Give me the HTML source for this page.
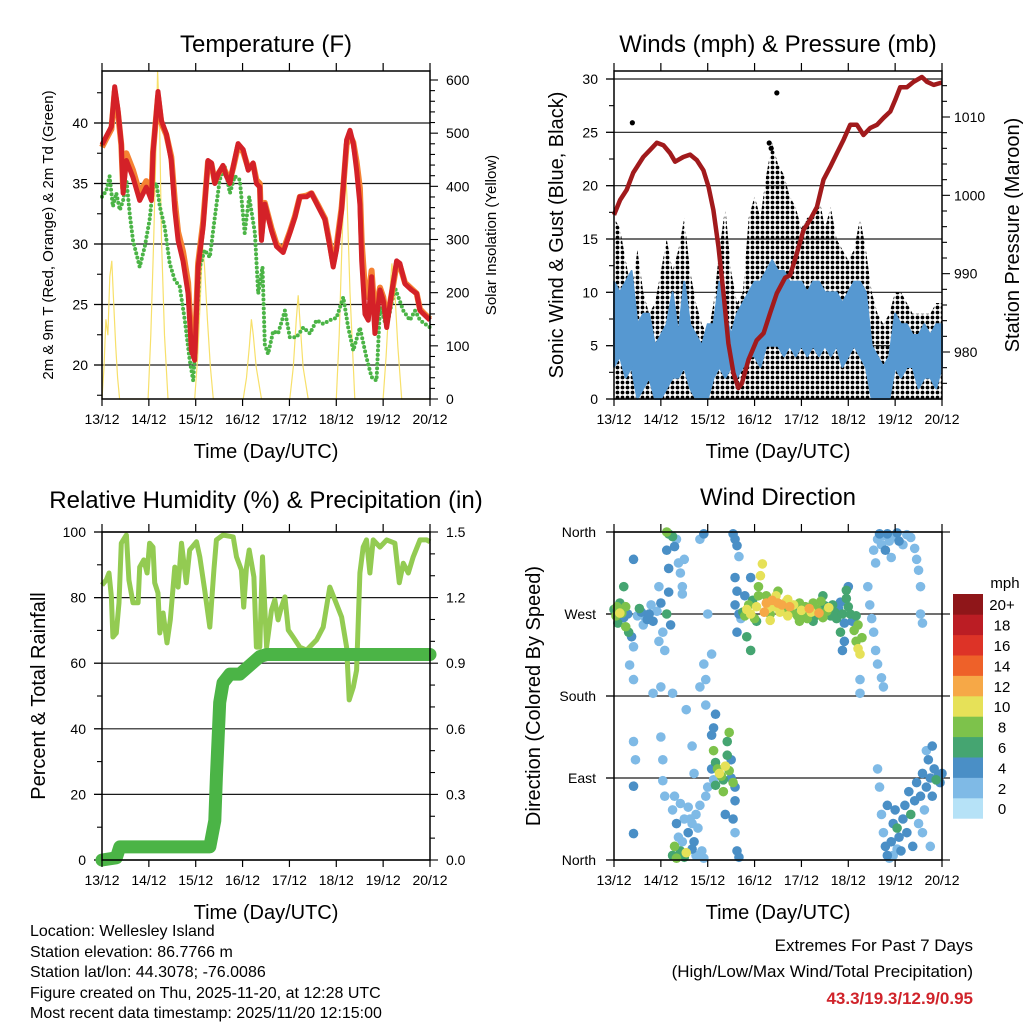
<!DOCTYPE html>
<html><head><meta charset="utf-8"><title>Weather station charts</title>
<style>
html,body{margin:0;padding:0;background:#fff;}
svg{display:block;font-family:"Liberation Sans",Arial,sans-serif;}
</style></head>
<body>
<svg id="chart" width="1024" height="1024" viewBox="0 0 1024 1024" xmlns="http://www.w3.org/2000/svg">
<defs>
<pattern id="dots" width="5" height="5" patternUnits="userSpaceOnUse"><circle cx="2.5" cy="2.5" r="1.9" fill="#000"/></pattern>
</defs>
<rect width="1024" height="1024" fill="#fff"/>
</svg>
<script>
// ---------- DATA ----------
const dayLabels = ["13/12","14/12","15/12","16/12","17/12","18/12","19/12","20/12"];
// Temperature (F) panel
const tempHours = [0,2.2,4.8,6.5,8.2,9.9,10.8,12.5,15.9,19.3,22.7,25.3,26.1,28.7,30.4,33,35.5,37.3,39,41.5,44.1,45.8,47.5,49.2,51.8,54.3,56.1,57.8,59.5,62,63.7,65.5,67.2,69.7,72.3,74.9,77.4,79.1,80.8,81.7,83.4,86.8,89.4,92.8,96.2,98.8,101.3,104.8,107.3,110.7,114.2,116.7,118.4,120.1,122.7,125.3,127,128.7,130.4,132.1,133,134.7,136.4,138.1,139.8,142.4,144.1,145.8,148.3,150.9,152.6,155.2,158.6,161.2,162.9,165.4,168];
const temp2m = [38.2,38.9,39.7,43.0,41.1,38.3,34.2,36.9,35.5,33.6,34.7,33.6,37.5,42.6,40.2,39.1,36.9,32.8,30.3,28.6,25.9,21.2,20.4,28.1,31.4,36.9,36.7,35.0,35.8,36.5,35.6,35.0,36.4,38.3,37.8,36.1,36.7,35.0,34.7,30.3,33.3,31.1,29.8,29.3,30.9,32.2,33.9,33.9,34.2,33.1,32.0,29.8,28.1,29.5,32.8,38.6,39.4,38.3,36.1,33.3,28.6,24.2,23.7,27.3,22.6,26.2,25.3,23.1,25.9,28.6,28.4,26.7,26.2,25.9,24.5,24.1,23.7];
const temp9m = [38.0,38.7,39.5,42.6,40.8,38.2,34.6,37.5,36.1,34.2,35.2,34.0,37.6,42.2,40.0,39.0,37.2,33.6,31.0,29.4,26.8,22.0,21.0,28.4,31.8,36.8,36.6,35.1,35.8,36.4,35.8,35.3,36.3,38.1,37.6,36.3,36.6,35.3,35.0,30.8,33.4,31.3,30.0,29.5,31.0,32.3,33.9,34.0,34.2,33.2,32.1,30.0,28.4,29.8,33.0,38.2,39.0,38.4,36.8,34.6,30.2,26.2,25.6,27.8,24.0,26.4,25.6,23.6,25.8,28.3,28.2,26.8,26.3,25.9,24.6,24.2,23.8];
const dewHours = [0,2.2,3.9,5.6,7.3,9.1,10.8,12.5,14.2,15.9,19.3,21.9,24.4,26.1,27.9,29.6,32.1,34.7,37.3,39.8,42.4,44.9,46.7,48.4,50.1,52.6,55.2,57.8,60.3,62.9,65.5,68,70.6,73.1,75.4,78.3,80,82.2,83.4,85.1,87.7,90.2,93.7,96.2,99.6,103.1,106.5,109.9,113.3,116.7,120.1,123.6,126.1,128.7,132.1,135.5,138.1,140.6,142.4,145.8,150,154.3,157.7,160.3,162.9,168];
const dewPoint = [33.9,34.4,35.6,33.1,34.2,32.8,33.6,35.3,32.5,30.3,28.1,29.8,32.0,34.7,35.0,33.1,31.4,28.4,27.0,26.5,23.7,20.4,18.7,23.1,28.1,29.5,28.9,32.2,35.3,36.4,34.2,35.6,35.3,30.9,33.9,30.9,25.9,28.1,21.7,20.9,22.8,22.6,24.5,22.3,22.3,23.1,22.6,23.7,23.4,23.7,23.9,25.6,23.1,21.2,23.1,20.6,19.0,18.7,24.8,23.1,26.4,24.5,23.7,24.5,23.7,23.1];
const solarHours = [0,1,2,3,4,5,6,7,8,9, 23.6,25,26.5,27.5,28.5,29.5,30.5,32,33.8, 47.5,49,50.5,51.5,52.5,54,55.5,57, 72.3,74,75.5,76.5,77.5,79,81.7, 96.2,98,99.5,100.5,101.5,103,105.6, 120,121.5,123,124.5,125.5,127,129.5, 144,145.5,147,148.5,150,151.5,153.5, 168];
const solarVals  = [0,60,150,120,230,260,180,100,40,0, 0,120,300,450,620,520,300,120,0, 0,80,200,290,250,150,60,0, 0,40,100,150,120,60,0, 0,60,150,195,140,60,0, 0,120,300,440,380,200,0, 0,80,180,255,200,100,0, 0];
const tempTicks = [20,25,30,35,40];
const solarTicks = [0,100,200,300,400,500,600];
// Winds panel (3-hourly envelopes)
const windHours = [0,3,6,9,12,15,18,21,24,27,30,33,36,39,42,45,48,51,54,57,60,63,66,69,72,75,78,81,84,87,90,93,96,99,102,105,108,111,114,117,120,123,126,129,132,135,138,141,144,147,150,153,156,159,162,165,168];
const windLow  = [3,4,2,3,0,1,2,0,0,1,2,2,3,1,0,0,0,2,3,2,3,2,3,4,4,3,5,5,5,4,5,4,5,4,5,4,5,4,5,3,4,5,4,3,0,0,0,0,3,2,3,3,1,2,2,1,3];
const windHigh = [11,10,11,12,7,8,8,5,6,7,10,6,11,7,6,5,7,7,11,8,6,8,9,10,11,11,12,13,12,12,11,11,11,10,11,11,10,10,10,9,10,11,11,10,5,4,3,4,8,7,7,6,6,7,6,7,7];
const gustHigh = [17,16,13,10,14,10,8,9,12,15,12,14,17,12,9,7,6,9,14,18,12,9,10,17,19,17,21,24,22,21,19,18,16,17,17,19,16,18,15,14,13,14,17,14,10,8,7,8,10,10,9,8,8,8,8,9,9];
const gustOutHours = [9.4,83.4,79.5,80.5];
const gustOutVals  = [25.9,28.7,24.0,23.5];
const presHours = [0,3.1,6.5,9.9,15,18.5,21.9,25.3,28.7,31.3,35.5,39,42.4,45.8,48.4,50.9,53.5,56.1,58.6,61.2,63.7,65.5,68.9,73.1,76.6,80,83.4,87.7,90.2,93.7,97.1,100.5,103.9,107.3,110.7,114.2,117.6,121,124.4,127.8,131.2,134.7,138.1,141.5,144.1,146.6,150,153.5,157.7,160.3,163.7,168];
const pressure = [997.5,999.4,1000.7,1002.9,1004.9,1005.8,1006.7,1006.4,1005.4,1004.3,1004.9,1005.2,1004.5,1003.2,1001.1,998.1,993.4,987.5,981.1,977.3,975.4,976.0,979.0,981.5,982.4,985.0,987.5,989.5,989.8,992.6,995.6,996.9,998.5,1002.0,1003.6,1005.4,1007.1,1009.0,1009.0,1007.7,1008.6,1009.0,1009.9,1010.7,1012.2,1013.8,1013.8,1014.5,1015.1,1014.5,1014.1,1014.4];
const windTicks = [0,5,10,15,20,25,30];
const presTicks = [980,990,1000,1010];
// RH / precipitation panel
const rhHours = [0,2.2,3.6,4.8,5.6,7.3,8.7,9.9,12.5,13.8,15.9,18.5,19.3,21.4,23.1,24.4,26.1,27,28.7,29.6,31.3,33.3,35,37.3,39,40.7,43.2,44.9,48.4,50.1,52.6,55.2,57.3,58.6,62,67.2,68.9,71.4,72.6,74,75.4,77.8,79.1,80.8,82.2,84.3,86.8,88.5,90.2,91.9,93.7,95.4,97.9,101.3,104.8,109.9,113.3,116.7,119.3,122.7,125.3,126.6,128.7,130.4,132.1,133.8,135.5,137.2,138.9,142.4,145.8,150,152.3,154.3,156.9,159.4,162.9,166.3,168];
const rhVals = [83.8,85.4,87.5,80.2,68.0,69.2,78.4,96.6,99.1,85.4,78.4,78.4,89.3,91.5,87.5,96.6,95.4,84.5,81.4,69.2,75.3,66.2,73.2,89.3,83.2,96.6,84.5,94.5,97.0,92.4,82.3,71.0,88.4,97.6,99.1,98.5,92.4,88.4,77.1,89.3,94.5,86.3,64.9,64.9,92.4,64.9,76.2,79.3,73.2,77.1,80.2,70.1,68.0,64.9,64.0,67.1,71.0,83.2,79.3,74.1,64.9,48.8,52.7,57.9,87.5,95.4,97.6,87.5,97.6,95.4,97.6,96.6,84.5,90.5,87.5,92.4,97.6,97.6,97.0];
const precipHours = [0,7.3,9.1,55.2,57.8,58.6,60.3,62,65.5,70.6,75.7,80.8,84.3,168];
const precipVals  = [0,0.01,0.06,0.06,0.18,0.38,0.72,0.81,0.85,0.85,0.89,0.93,0.94,0.94];
const rhTicks = [0,20,40,60,80,100];
const precipTicks = ["0.0","0.3","0.6","0.9","1.2","1.5"];
// Wind direction scatter: hour, degrees, speed
const dirHours = [0,1.5,3,4,5,6,7,2,6,7.5,9,10,8,5,10,3,1, 12,14,16,18,20,15,22,13,19,17, 23,24,25,26,27,28,29,27,28,23,24, 28,30,32,31,33,34,35,36,35,27, 46,44,46,47,44,47,48,50, 10,20,30,37,10,24,25,26,10,10,11,25,40,41, 30,31,32,33,31,30,32,34,35,36,37,38,39,40,41,42,43,44,45,46,47,48,40,42,36,34,38, 50,51,52,51,52,53,54,55,56,57,58,59,60,61,62,50,51,52,58,59,56,60,62,61,62,63,64,57, 61,62,63,64,62,63,62,64,65,63, 66,67,68,69,70,71,72,73,74,74,75,76,77,78,79,80,81,82,83,84,85,86,87,88,89,90,91,92,93,94,95,96,97,98,99,100,101,102,103,104,105,106,107,108,109,110,111,112,113,114,115,116,117,118,119,120,121,122,123,124,125,126,127,125,124,120,118,117,116,119,68,70,67,70,78,80,84,73,89,95,102,107, 133,134,135,136,137,138,139,140,141,142,143,145,146,148,150,152,154,155,156,157,130,131,132,133,134,135,137,138,157,158, 135,136,137,138,139,140,141,142,143,144,145,146,147,148,149,150,151,152,153,154,155,156,157,158,159,160,161,162,163,164,165,166,167,168,160,163,158,162,145,140,143,126,126];
const dirDeg = [275,278,282,271,266,278,270,260,256,250,245,234,214,300,330,271,268, 268,272,266,270,262,258,273,276,280,264, 300,282,250,230,270,294,258,340,320,240,190, 358,355,352,344,326,315,300,330,292,360, 358,352,215,198,190,170,270,226, 198,183,183,165,130,135,110,70,81,29,110,87,125,95, 55,70,40,25,15,5,2,10,20,3,8,30,45,40,20,50,35,60,10,2,70,80,12,5,45,62,58, 137,145,160,120,107,100,95,92,88,103,115,98,90,85,80,100,88,82,130,140,75,110,65,45,30,10,3,50, 358,352,345,333,310,295,280,270,265,250, 272,268,275,280,270,285,265,278,290,300,312,325,272,282,276,270,285,278,290,282,272,280,276,283,268,278,272,280,275,268,282,274,270,278,265,276,272,282,268,275,271,284,266,279,273,277,268,280,272,265,276,283,270,260,296,278,270,262,252,240,232,226,244,258,268,300,240,230,250,287,245,230,290,310,290,263,295,262,286,262,262,290, 340,326,352,358,346,356,340,358,350,332,355,359,350,346,357,354,342,330,318,300,300,280,265,250,230,215,200,190,270,260, 100,80,50,30,15,5,2,20,40,55,35,25,10,45,60,30,75,50,15,65,85,40,70,95,55,80,110,90,70,100,88,92,85,95,120,125,30,15,12,60,5,198,183];
const dirSpeed = [7,9,6,8,5,8,4,7,8,7,4,3,3,6,4,10,8, 3,4,3,4,5,2,3,6,2,4, 3,4,2,2,6,5,4,5,4,2,2, 6,7,3,4,2,2,3,2,2,8, 4,2,2,2,2,2,2,3, 2,2,2,2,2,2,2,2,4,4,2,2,2,2, 2,2,4,2,8,7,8,6,2,7,10,4,2,2,4,2,2,2,2,2,2,2,4,2,2,2,2, 4,4,4,8,6,8,10,8,7,10,6,8,4,8,4,4,3,6,6,8,8,4,4,4,2,4,4,4, 4,4,4,2,4,4,4,4,2,4, 6,8,10,8,10,6,8,10,8,8,10,10,12,12,10,8,12,10,10,12,10,12,8,10,10,12,8,10,6,8,8,10,8,8,8,12,10,8,6,8,12,8,8,6,8,10,6,6,6,6,4,4,6,4,6,6,6,4,8,8,10,10,8,8,6,4,4,4,6,6,6,6,4,4,8,10,8,6,10,8,6,6, 2,2,2,4,2,2,4,4,2,2,2,4,4,2,2,2,2,2,2,2,2,2,2,2,2,2,2,2,2,2, 2,2,2,2,4,4,2,4,4,4,6,4,4,4,4,4,4,6,4,4,4,2,4,4,2,4,4,4,4,4,6,4,4,4,2,4,2,2,2,4,2,2,2];
const dirTickLabels = ["North","East","South","West","North"];
const cbarLabels = ["0","2","4","6","8","10","12","14","16","18","20+"];
const cbarColors = ["#b6e2f7","#7fbae6","#4a8fc6","#45a571","#7dc24b","#e6e158","#f6a847","#ee6129","#dd3327","#bb1d24","#8f1619"];

// ---------- HELPERS ----------
const NS = "http://www.w3.org/2000/svg";
const svg = document.getElementById("chart");
function mk(tag, attrs, parent) {
  const el = document.createElementNS(NS, tag);
  for (const k in attrs) el.setAttribute(k, attrs[k]);
  (parent || svg).appendChild(el);
  return el;
}
function txt(str, attrs, parent) {
  const el = mk("text", attrs, parent);
  el.textContent = str;
  return el;
}
function linScale(d0, d1, r0, r1) { return v => r0 + (v - d0) / (d1 - d0) * (r1 - r0); }

const L = {x0:102, x1:430}, R = {x0:614, x1:942};
const TOP = {y0:71, y1:399}, BOT = {y0:532, y1:860};
const xL = linScale(0, 168, L.x0, L.x1);
const xR = linScale(0, 168, R.x0, R.x1);

function drawXAxis(p, yr, name) {
  const g = mk("g", {});
  
  
  for (let d = 0; d < dayLabels.length; d++) {
    const x = p.x0 + d * (p.x1 - p.x0) / 7;
    const t1 = mk("line", {x1:x, x2:x, y1:yr.y1, y2:yr.y1 + 7, stroke:"#000", "stroke-width":1.2}, g);
    
    
    const t2 = mk("line", {x1:x, x2:x, y1:yr.y0 - 8, y2:yr.y0, stroke:"#000", "stroke-width":1.2}, g);
    
    
    const lb = txt(dayLabels[d], {x:x, y:yr.y1 + 25, "font-size":14, "text-anchor":"middle", fill:"#000"}, g);
    
    
  }
  const t = txt("Time (Day/UTC)", {x:(p.x0 + p.x1) / 2, y:yr.y1 + 59, "font-size":20, "text-anchor":"middle"}, g);
  
  
}
function drawBox(p, yr, name) {
  const r = mk("rect", {x:p.x0, y:yr.y0, width:p.x1 - p.x0, height:yr.y1 - yr.y0, fill:"none", stroke:"#000", "stroke-width":1.5});
  
  
}
function hGrid(y, xa, xb) {
  const l = mk("line", {x1:xa, x2:xb, y1:y, y2:y, stroke:"#1a1a1a", "stroke-width":1.2});
  
  
}
function yTick(x, y, len, labelStr, anchor, lx) {
  const l = mk("line", {x1:x, x2:x + len, y1:y, y2:y, stroke:"#000", "stroke-width":1.1});
  
  
  if (labelStr !== null) {
    const t = txt(labelStr, {x:lx, y:y + 5, "font-size":14, "text-anchor":anchor});
    
    
  }
}
function rotLabel(str, x, y, size, name) {
  const t = txt(str, {x:x, y:y, "font-size":size, "text-anchor":"middle", transform:"rotate(-90 " + x + " " + y + ")"});
  
  
}
function title(str, x, y, name) {
  const t = txt(str, {x:x, y:y, "font-size":24, "text-anchor":"middle"});
  
  
}
function polyPts(hs, vs, xf, yf) { return hs.map((h, i) => xf(h).toFixed(1) + "," + yf(vs[i]).toFixed(1)).join(" "); }

// ---------- PANEL 1: TEMPERATURE ----------
const yT = linScale(20, 40, 365, 123);
const yS = linScale(0, 600, 399, 80);
title("Temperature (F)", 266, 52, "temperature-title");
tempTicks.forEach(v => hGrid(yT(v), 94, L.x1));
tempTicks.forEach(v => yTick(L.x0 - 8, yT(v), 8, String(v), "end", 88));
[17.5,22.5,27.5,32.5,37.5,42.5].forEach(v => yTick(L.x0 - 5, yT(v), 5, null));
solarTicks.forEach(v => yTick(L.x1, yS(v), 8, String(v), "start", 446));
for (let v = 20; v <= 600; v += 20) if (v % 100) yTick(L.x1, yS(v), 5, null);
rotLabel("2m & 9m T (Red, Orange) & 2m Td (Green)", 53, 235, 15, "temperature-y-axis-title");
rotLabel("Solar Insolation (Yellow)", 496, 235, 15, "solar-y-axis-title");
const gT = mk("g", {});


const solarLine = mk("polyline", {points:polyPts(solarHours, solarVals, xL, v => Math.max(yS(v), 71)), fill:"none", stroke:"#f7e06a", "stroke-width":1.2}, gT);


const dewLine = mk("polyline", {points:polyPts(dewHours, dewPoint, xL, yT), fill:"none", stroke:"#4bb446", "stroke-width":4, "stroke-linecap":"round", "stroke-dasharray":"0 4.5"}, gT);


const t9Line = mk("polyline", {points:polyPts(tempHours, temp9m, xL, yT), fill:"none", stroke:"#f58233", "stroke-width":6, "stroke-linejoin":"round"}, gT);


const t2Line = mk("polyline", {points:polyPts(tempHours, temp2m, xL, yT), fill:"none", stroke:"#d42128", "stroke-width":5, "stroke-linejoin":"round"}, gT);


drawBox(L, TOP, "temperature");
drawXAxis(L, TOP, "temperature");

// ---------- PANEL 2: WINDS ----------
const yW = linScale(0, 30, 399, 79);
const yP = linScale(980, 1010, 352, 117);
title("Winds (mph) & Pressure (mb)", 778, 52, "winds-title");
windTicks.forEach(v => hGrid(yW(v), 606, R.x1));
windTicks.forEach(v => yTick(R.x0 - 8, yW(v), 8, String(v), "end", 598));
[2.5,7.5,12.5,17.5,22.5,27.5].forEach(v => yTick(R.x0 - 5, yW(v), 5, null));
presTicks.forEach(v => yTick(R.x1, yP(v), 8, String(v), "start", 954));
for (let v = 976; v <= 1014; v += 2) if (v % 10) yTick(R.x1, yP(v), 5, null);
rotLabel("Sonic Wind & Gust (Blue, Black)", 563, 235, 20, "wind-y-axis-title");
rotLabel("Station Pressure (Maroon)", 1019, 235, 20, "pressure-y-axis-title");
const gW = mk("g", {});


const gustPts = windHours.map((h, i) => xR(h).toFixed(1) + "," + yW(gustHigh[i]).toFixed(1)).join(" ") + " " + xR(168) + "," + yW(0) + " " + xR(0) + "," + yW(0);
const gustBand = mk("polygon", {points:gustPts, fill:"url(#dots)"}, gW);


gustOutHours.forEach((h, i) => {
  const c = mk("circle", {cx:xR(h), cy:yW(gustOutVals[i]), r:2.6, fill:"#000"}, gW);
  
  
});
const bandPts = windHours.map((h, i) => xR(h).toFixed(1) + "," + yW(windHigh[i]).toFixed(1)).concat(windHours.slice().reverse().map((h, j) => xR(h).toFixed(1) + "," + yW(windLow[windHours.length - 1 - j]).toFixed(1))).join(" ");
const windBand = mk("polygon", {points:bandPts, fill:"#5698d1", stroke:"#5698d1", "stroke-width":2, "stroke-linejoin":"round"}, gW);


const presLine = mk("polyline", {points:polyPts(presHours, pressure, xR, yP), fill:"none", stroke:"#a11a1c", "stroke-width":4.5, "stroke-linejoin":"round"}, gW);


drawBox(R, TOP, "winds");
drawXAxis(R, TOP, "winds");

// ---------- PANEL 3: RH & PRECIP ----------
const yH = linScale(0, 100, 860, 532);
const yPr = linScale(0, 1.5, 860, 532);
title("Relative Humidity (%) & Precipitation (in)", 266, 508, "humidity-title");
rhTicks.forEach(v => hGrid(yH(v), 94, L.x1));
rhTicks.forEach(v => yTick(L.x0 - 8, yH(v), 8, String(v), "end", 86));
[10,30,50,70,90].forEach(v => yTick(L.x0 - 5, yH(v), 5, null));
precipTicks.forEach(s => yTick(L.x1, yPr(parseFloat(s)), 8, s, "start", 446));
for (let v = 1; v < 15; v++) if (v % 3) yTick(L.x1, yPr(v / 10), 5, null);
rotLabel("Percent & Total Rainfall", 45, 696, 20, "humidity-y-axis-title");
const gH = mk("g", {});


const rhLine = mk("polyline", {points:polyPts(rhHours, rhVals, xL, yH), fill:"none", stroke:"#93cb52", "stroke-width":5, "stroke-linejoin":"round"}, gH);


const prLine = mk("polyline", {points:polyPts(precipHours, precipVals, xL, yPr), fill:"none", stroke:"#4bb446", "stroke-width":13, "stroke-linejoin":"round", "stroke-linecap":"round"}, gH);


drawBox(L, BOT, "humidity");
drawXAxis(L, BOT, "humidity");

// ---------- PANEL 4: WIND DIRECTION ----------
const yD = linScale(0, 360, 860, 532);
title("Wind Direction", 778, 505, "wind-direction-title");
dirTickLabels.forEach((s, i) => hGrid(yD(i * 90), 606, 950));
dirTickLabels.forEach((s, i) => yTick(R.x0 - 8, yD(i * 90), 8, s, "end", 596));
rotLabel("Direction (Colored By Speed)", 540, 696, 20, "direction-y-axis-title");
const gD = mk("g", {});


function spdColor(s) { return cbarColors[Math.min(10, Math.max(0, Math.floor(s / 2)))]; }
const order = dirHours.map((h, i) => i).sort((a, b) => dirSpeed[a] - dirSpeed[b]);
order.forEach(i => {
  const c = mk("circle", {cx:xR(dirHours[i]), cy:yD(dirDeg[i]), r:4.8, fill:spdColor(dirSpeed[i])}, gD);
  
  
});
drawBox(R, BOT, "wind-direction");
drawXAxis(R, BOT, "wind-direction");
// colorbar
const gC = mk("g", {});


const cbTop = 594, cbH = 20.4;
cbarColors.forEach((col, i) => {
  const y = cbTop + (cbarColors.length - 1 - i) * cbH;
  const r = mk("rect", {x:953, y:y, width:30, height:cbH + 0.3, fill:col}, gC);
  
  
  const t = txt(cbarLabels[i], {x:1002, y:y + cbH / 2 + 6, "font-size":15, "text-anchor":"middle"}, gC);
  
  
});
const mph = txt("mph", {x:1005, y:588, "font-size":15, "text-anchor":"middle"}, gC);



// ---------- FOOTER ----------
const info = ["Location: Wellesley Island","Station elevation: 86.7766 m","Station lat/lon: 44.3078; -76.0086","Figure created on Thu, 2025-11-20, at 12:28 UTC","Most recent data timestamp: 2025/11/20 12:15:00"];
const infoY = [936, 957, 977, 998, 1018];
info.forEach((s, i) => {
  const t = txt(s, {x:30, y:infoY[i], "font-size":16});
  
  
});
const ex1 = txt("Extremes For Past 7 Days", {x:973, y:951, "font-size":17, "text-anchor":"end"});


const ex2 = txt("(High/Low/Max Wind/Total Precipitation)", {x:973, y:977, "font-size":17, "text-anchor":"end"});


const ex3 = txt("43.3/19.3/12.9/0.95", {x:973, y:1004, "font-size":17, "font-weight":"bold", fill:"#d0232a", "text-anchor":"end"});


</script>
</body></html>
